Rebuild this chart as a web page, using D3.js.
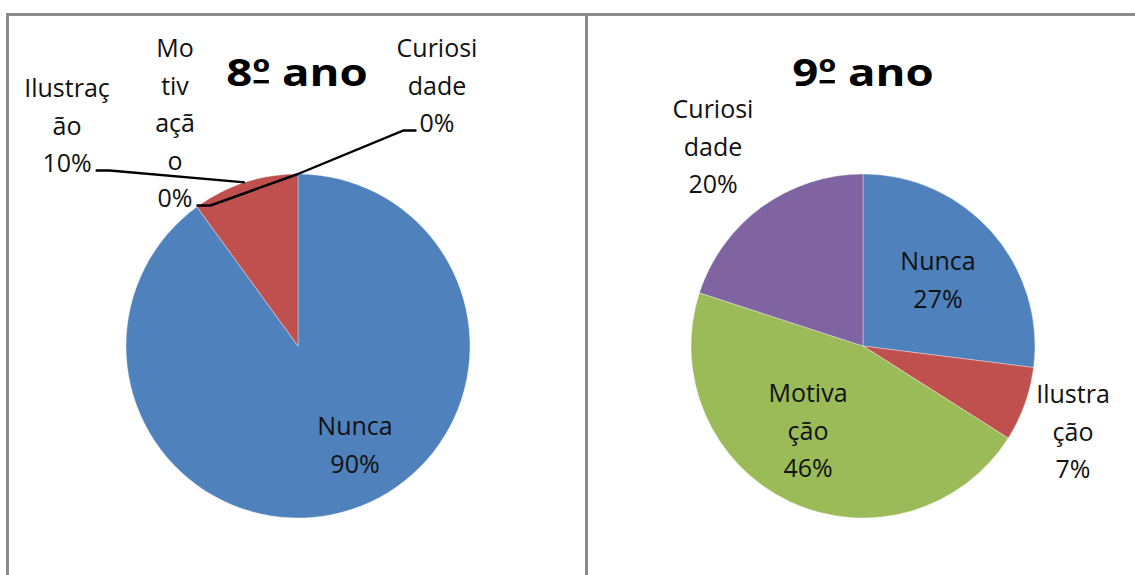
<!DOCTYPE html>
<html>
<head>
<meta charset="utf-8">
<script src="https://cdn.jsdelivr.net/npm/d3@7"></script>
<style>
  body { margin: 0; background: #fff; }
  svg { display: block; }
</style>
</head>
<body>
<svg id="chart" width="1135" height="575"></svg>
<script>
// Categories and series values (percent)
const categories = ["Nunca", "Ilustração", "Motivação", "Curiosidade"];
const values8 = [90, 10, 0, 0];
const values9 = [27, 7, 46, 20];
const titles = [["8", "º", " ano"], ["9", "º", " ano"]];
const colors = ["#4F81BD", "#C0504D", "#9BBB59", "#8064A2"];

// Category names as they wrap inside each chart's label boxes
const wrap8 = [["Nunca"], ["Ilustraç", "ão"], ["Mo", "tiv", "açã", "o"], ["Curiosi", "dade"]];
const wrap9 = [["Nunca"], ["Ilustra", "ção"], ["Motiva", "ção"], ["Curiosi", "dade"]];

// Label block placement (first line centre, relative to pie centre) and leader lines
const labelPos8 = [[57, 79], [-231, -259], [-123, -299], [139, -299]];
const labelPos9 = [[75, -86], [210, 47], [-55, 46], [-150, -238]];
const leaders8 = [false, "right", "right", "left"];
const leaders9 = [false, false, false, false];

const svg = d3.select("#chart");
const W = 1135, H = 575;
const lineH = 37.5;

// panel frame
const frame = svg.append("g").attr("fill", "none").attr("stroke", "#8a8a8a").attr("stroke-width", 3);
frame.append("line").attr("x1", 7).attr("x2", W).attr("y1", 14.5).attr("y2", 14.5);
frame.append("line").attr("x1", 7.5).attr("x2", 7.5).attr("y1", 13).attr("y2", H);
frame.append("line").attr("x1", 586.5).attr("x2", 586.5).attr("y1", 13).attr("y2", H);

const panels = [
  { title: titles[0], values: values8, wrap: wrap8, pos: labelPos8, leaders: leaders8, cx: 298, cy: 346, tx: 297 },
  { title: titles[1], values: values9, wrap: wrap9, pos: labelPos9, leaders: leaders9, cx: 863, cy: 346, tx: 863 }
];

const radius = 172;
const pie = d3.pie().sort(null).value(d => d.value);
const arc = d3.arc().innerRadius(0).outerRadius(radius);

panels.forEach(p => {
  const data = categories.map((c, i) => ({ cat: c, value: p.values[i], lines: p.wrap[i], pos: p.pos[i], leader: p.leaders[i], color: colors[i] }));
  const arcs = pie(data);
  const g = svg.append("g").attr("transform", `translate(${p.cx},${p.cy})`);

  g.selectAll("path.slice")
    .data(arcs.filter(a => a.data.value > 0))
    .join("path")
    .attr("class", "slice")
    .attr("d", arc)
    .attr("fill", d => d.data.color)
    .attr("stroke", "rgba(255,255,255,0.45)")
    .attr("stroke-width", 0.8);

  // title; the ordinal indicator gets a bar on the baseline
  const tg = svg.append("g").attr("transform", `translate(${p.tx},86) scale(1.2,1)`);
  const tt = tg.append("text")
    .attr("text-anchor", "middle")
    .attr("font-family", "'Open Sans', sans-serif")
    .attr("font-weight", "bold")
    .attr("font-size", 38)
    .attr("fill", "#000");
  let ord = null;
  p.title.forEach((s, k) => {
    const ts = tt.append("tspan").text(s);
    if (k === 1) ord = ts;
  });
  const ob = ord.node().getBBox();
  tg.append("rect")
    .attr("x", ob.x + 1)
    .attr("width", ob.width - 2)
    .attr("y", -6)
    .attr("height", 3.4)
    .attr("fill", "#000");

  // data labels
  arcs.forEach(a => {
    const d = a.data;
    const lines = d.lines.concat([d.value + "%"]);
    const lx = d.pos[0], ly = d.pos[1];
    const t = g.append("text")
      .attr("text-anchor", "middle")
      .attr("font-family", "'Open Sans', sans-serif")
      .attr("font-size", 25)
      .attr("fill", "#111");
    lines.forEach((s, k) => {
      t.append("tspan")
        .attr("x", lx)
        .attr("y", ly + k * lineH)
        .attr("dominant-baseline", "central")
        .text(s);
    });
    if (d.leader) {
      const last = t.selectAll("tspan").nodes().pop();
      const bb = last.getBBox();
      const yLine = ly + (lines.length - 1) * lineH + 8.5;
      const mid = (a.startAngle + a.endAngle) / 2;
      const target = [Math.sin(mid) * radius, -Math.cos(mid) * radius];
      let pts;
      if (d.leader === "right") {
        const x0 = bb.x + bb.width + 4;
        pts = [[x0, yLine], [x0 + 14, yLine], target];
      } else {
        const x0 = bb.x - 3;
        pts = [target, [x0 - 13, yLine], [x0, yLine]];
      }
      g.append("path")
        .attr("d", d3.line()(pts))
        .attr("fill", "none")
        .attr("stroke", "#000")
        .attr("stroke-width", 2.4);
    }
  });
});
</script>
</body>
</html>
